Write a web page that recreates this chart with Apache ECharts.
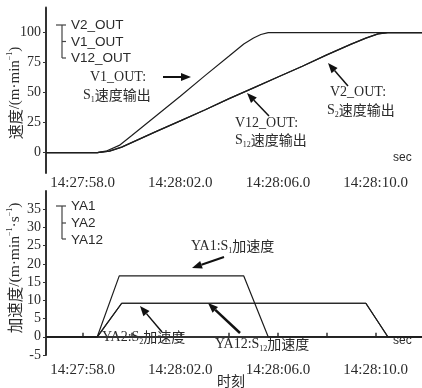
<!DOCTYPE html>
<html><head><meta charset="utf-8">
<script src="https://cdn.jsdelivr.net/npm/echarts@6/dist/echarts.min.js"></script>
<style>html,body{margin:0;padding:0;background:#fff}#c{width:422px;height:388px}</style>
</head><body><div id="c"></div>
<script>
// time in seconds after 14:27:00
const xTickValues = [58, 62, 66, 70];
const xTickLabels = ['14:27:58.0', '14:28:02.0', '14:28:06.0', '14:28:10.0'];
const xMinorTicks = [58, 60, 62, 64, 66, 68, 70];
const vTicks = [0, 25, 50, 75, 100];
const aTicks = [-5, 0, 5, 10, 15, 20, 25, 30, 35];

const tV1 = [56.5, 58.6, 59.0, 59.5, 60, 61, 62, 63, 64, 64.6, 65.0, 65.3, 65.6, 72];
const V1_OUT = [0, 0, 1.5, 6, 14, 30.5, 47, 64, 80.5, 90.5, 95.5, 98.5, 100, 100];
const tV2 = [56.5, 58.6, 59.1, 59.6, 61, 62, 63, 64, 65, 66, 67, 68, 69, 69.6, 70.1, 70.5, 72];
const V2_OUT = [0, 0, 1.2, 4.6, 17.5, 26.5, 35.5, 45, 54, 63, 72, 81.5, 90.5, 95.5, 99, 100, 100];
const V12_OUT = V2_OUT.slice();

const tA1 = [56.5, 58.6, 59.5, 64.6, 65.6, 72];
const YA1 = [0, 0, 16.7, 16.7, 0, 0];
const tA2 = [56.5, 58.6, 59.6, 69.6, 70.5, 72];
const YA2 = [0, 0, 9.2, 9.2, 0, 0];
const YA12 = YA2.slice();

const pair = (t, v) => t.map((x, i) => [x, v[i]]);
const SERIF = '"Liberation Serif","Noto Sans CJK SC",serif';
const SANS = '"Liberation Sans","Noto Sans CJK SC",sans-serif';
const CJK = '"Noto Sans CJK SC",sans-serif';
const TXT = '#2a2a2a';
const LINE = '#1e1e1e';

function xAxis(gi, bottom) {
  return {
    type: 'value', gridIndex: gi, min: 56.5, max: 71.9, interval: 0.1,
    axisLine: {show: bottom, lineStyle: {color: '#333', width: 2}},
    axisTick: {show: bottom, inside: true, length: 4, customValues: xMinorTicks, lineStyle: {color: '#333', width: 1.5}},
    splitLine: {show: false},
    axisLabel: {
      customValues: xTickValues, margin: bottom ? 8 : 3,
      fontFamily: SERIF, fontSize: 15, color: TXT,
      formatter: v => xTickLabels[xTickValues.indexOf(Math.round(v))] || ''
    }
  };
}
function yAxis(gi, min, max, ticks) {
  return {
    type: 'value', gridIndex: gi, min: min, max: max,
    axisLine: {show: true, onZero: false, lineStyle: {color: '#333', width: 2}},
    axisTick: {show: true, length: 3, customValues: ticks, lineStyle: {color: '#333'}},
    splitLine: {show: false},
    axisLabel: {customValues: ticks, margin: 5, fontFamily: SERIF, fontSize: 14, color: TXT}
  };
}
function line(name, data, xi) {
  return {name: name, type: 'line', xAxisIndex: xi, yAxisIndex: xi, data: data,
    showSymbol: false, symbol: 'none', lineStyle: {color: LINE, width: 1.2}, silent: true, animation: false};
}
function arrow(x1, y1, x2, y2, w) {
  const a = Math.atan2(y2 - y1, x2 - x1), L = 10, H = 4;
  const bx = x2 - L * Math.cos(a), by = y2 - L * Math.sin(a);
  const px = -Math.sin(a) * H, py = Math.cos(a) * H;
  return [
    {type: 'line', shape: {x1: x1, y1: y1, x2: bx, y2: by}, style: {stroke: '#111', lineWidth: w || 1.5}},
    {type: 'polygon', shape: {points: [[x2, y2], [bx + px, by + py], [bx - px, by - py]]}, style: {fill: '#111'}}
  ];
}
const RICH = (size) => ({
  n: {fontFamily: SERIF, fontSize: size, fill: TXT, lineHeight: 18},
  c: {fontFamily: CJK, fontSize: size, fill: TXT, lineHeight: 18},
  sub: {fontFamily: SERIF, fontSize: 8, fill: TXT, lineHeight: 18, verticalAlign: 'bottom', padding: [6, 0, 0, 0]},
  sup: {fontFamily: SERIF, fontSize: 8, fill: TXT, lineHeight: 18, verticalAlign: 'top', padding: [0, 0, 6, 0]}
});
function txt(x, y, text, size, font, align, rot) {
  return {type: 'text', x: x, y: y, rotation: rot || 0, style: {
    text: text, fontFamily: font || SERIF, fontSize: size || 14, fill: TXT,
    align: align || 'left', verticalAlign: 'middle', rich: RICH(size || 14)
  }};
}
function bracket(x, yTop, yMid, yBot) {
  const s = {stroke: '#444', lineWidth: 1.2};
  return [
    {type: 'line', shape: {x1: x - 6, y1: yTop, x2: x + 4, y2: yTop}, style: s},
    {type: 'line', shape: {x1: x, y1: yTop, x2: x, y2: yBot}, style: s},
    {type: 'line', shape: {x1: x, y1: yMid, x2: x + 4, y2: yMid}, style: s},
    {type: 'line', shape: {x1: x, y1: yBot, x2: x + 4, y2: yBot}, style: s}
  ];
}

const graphics = [].concat(
  [txt(15, 93, '{c|速度}{n|/(m·min}{sup|−1}{n|)}', 15, SERIF, 'center', Math.PI / 2)],
  [txt(15, 268, '{c|加速度}{n|/(m·min}{sup|−1}{n|·s}{sup|−1}{n|)}', 15.5, SERIF, 'center', Math.PI / 2)],
  bracket(62, 25, 41.5, 58),
  [txt(71, 25, 'V2_OUT', 13.5, SANS), txt(71, 42, 'V1_OUT', 13.5, SANS), txt(71, 58, 'V12_OUT', 13.5, SANS)],
  bracket(62, 206, 223, 239),
  [txt(71, 206, 'YA1', 13.5, SANS), txt(71, 223, 'YA2', 13.5, SANS), txt(71, 240, 'YA12', 13.5, SANS)],
  [txt(90, 77, '{n|V1_OUT:}'), txt(83, 95, '{n|S}{sub|1}{c|速度输出}')],
  arrow(163, 77, 191, 77, 2),
  [txt(235, 123, '{n|V12_OUT:}'), txt(235, 140, '{n|S}{sub|12}{c|速度输出}')],
  arrow(269, 116, 247, 93, 1.5),
  [txt(330, 92, '{n|V2_OUT:}'), txt(327, 110, '{n|S}{sub|2}{c|速度输出}')],
  arrow(348, 86, 328, 63, 1.5),
  [txt(393, 158, 'sec', 12, SANS)],
  [txt(191, 246, '{n|YA1:S}{sub|1}{c|加速度}')],
  arrow(224, 257, 192, 268, 2),
  [txt(102, 337, '{n|YA2:S}{sub|2}{c|加速度}')],
  arrow(162, 332, 140, 306, 1.5),
  [txt(215, 344, '{n|YA12:S}{sub|12}{c|加速度}')],
  arrow(240, 333, 208, 303, 2.5),
  [txt(393, 341, 'sec', 12, SANS)],
  [txt(231, 381, '{c|时刻}', 14, CJK, 'center')]
);

const chart = echarts.init(document.getElementById('c'), null, {renderer: 'canvas'});
chart.setOption({
  animation: false,
  backgroundColor: '#fff',
  grid: [
    {left: 46, right: 0, top: 7.5, height: 165.5, containLabel: false, outerBoundsMode: 'none'},
    {left: 46, right: 0, top: 191, height: 164, containLabel: false, outerBoundsMode: 'none'}
  ],
  xAxis: [xAxis(0, false), xAxis(1, true)],
  yAxis: [yAxis(0, -17, 121, vTicks), yAxis(1, -5, 40, aTicks)],
  series: [
    line('V2_OUT', pair(tV2, V2_OUT), 0),
    line('V1_OUT', pair(tV1, V1_OUT), 0),
    line('V12_OUT', pair(tV2, V12_OUT), 0),
    line('YA1', pair(tA1, YA1), 1),
    line('YA2', pair(tA2, YA2), 1),
    line('YA12', pair(tA2, YA12), 1)
  ],
  graphic: graphics
});
</script>
</body></html>
